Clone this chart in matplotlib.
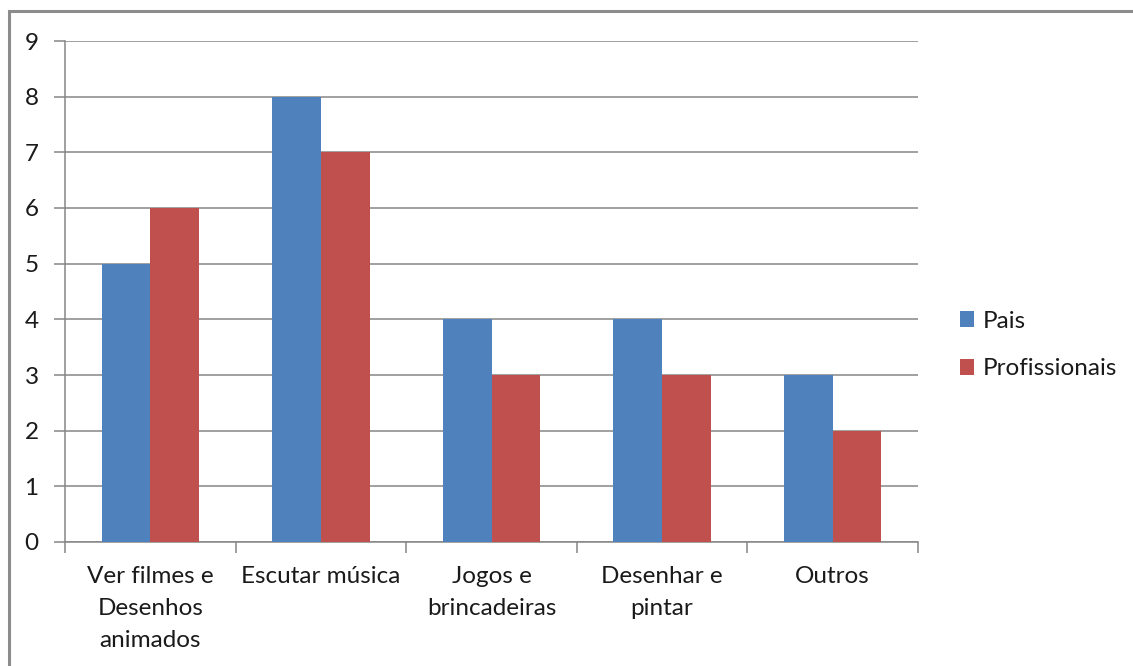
import matplotlib
matplotlib.use("Agg")
import matplotlib.pyplot as plt
from matplotlib.patches import Rectangle
import numpy as np

categories = ["Ver filmes e\nDesenhos\nanimados", "Escutar música", "Jogos e\nbrincadeiras",
              "Desenhar e\npintar", "Outros"]
pais = [5, 8, 4, 4, 3]
profissionais = [6, 7, 3, 3, 2]
series_names = ["Pais", "Profissionais"]

blue = "#4F81BD"
red = "#C0504D"
grid_gray = "#868686"
text_color = "#1a1a1a"
fs = 17.5

plt.rcParams["font.family"] = ["Lato", "DejaVu Sans"]

fig = plt.figure(figsize=(11.33, 6.66), dpi=100)
ax = fig.add_axes([65 / 1133, 1 - 542 / 666, (918 - 65) / 1133, (542 - 41) / 666])

x = np.arange(len(categories))
w = 1 / 3.5
ax.bar(x - w / 2, pais, width=w, color=blue, label=series_names[0], zorder=3)
ax.bar(x + w / 2, profissionais, width=w, color=red, label=series_names[1], zorder=3)

ax.set_xlim(-0.5, len(categories) - 0.5)
ax.set_ylim(0, 9)
ax.set_yticks(range(0, 10))
ax.yaxis.grid(True, color=grid_gray, linewidth=1.1, zorder=0)

ax.set_xticks(x)
ax.set_xticklabels(categories, fontsize=fs, color=text_color, linespacing=1.65, va="top")
ax.set_xticks(np.arange(-0.5, len(categories)), minor=True)
ax.tick_params(axis="x", which="major", length=0, pad=17)
ax.tick_params(axis="x", which="minor", length=8, width=1.1, color=grid_gray)
ax.tick_params(axis="y", length=8, width=1.1, color=grid_gray, labelsize=fs,
               labelcolor=text_color, pad=11)

for s in ["top", "right"]:
    ax.spines[s].set_visible(False)
for s in ["left", "bottom"]:
    ax.spines[s].set_color(grid_gray)
    ax.spines[s].set_linewidth(1.1)

fig.legend(loc="center left", bbox_to_anchor=(950 / 1133, 1 - 345 / 666), frameon=False,
           fontsize=fs, handlelength=0.6, handleheight=0.6, handletextpad=0.35,
           labelspacing=1.1, labelcolor=text_color, borderaxespad=0)

fig.patches.append(Rectangle((9 / 1133, -0.1), 1.2, 1 - 11 / 666 + 0.1,
                             transform=fig.transFigure, fill=False,
                             edgecolor="#8c8c8c", linewidth=2.2))

fig.savefig("out.png", dpi=100, facecolor="white")
